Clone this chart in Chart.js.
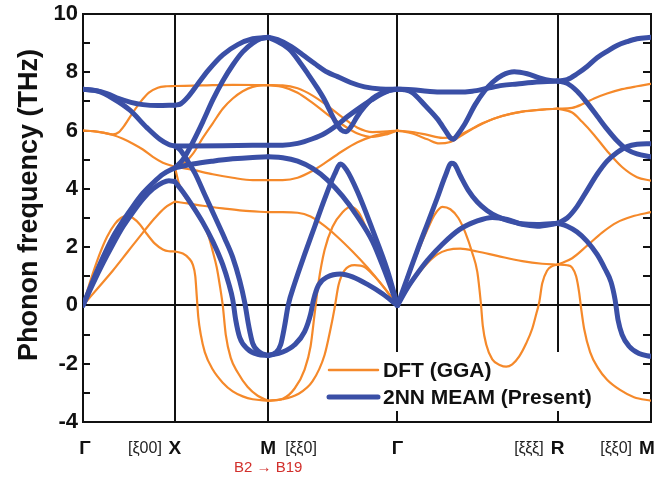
<!DOCTYPE html>
<html>
<head>
<meta charset="utf-8">
<title>Phonon dispersion</title>
<script src="https://cdn.jsdelivr.net/npm/chart.js@4.4.1/dist/chart.umd.min.js"></script>
<style>
  html, body { margin: 0; padding: 0; background: #fff; }
  #chart { display: block; }
</style>
</head>
<body>
<canvas id="chart" width="669" height="483"></canvas>
<script>
// ---------- path through the Brillouin zone ----------
const symPoints = [0, 92, 185.5, 315, 475.5, 569];
const symLabels = ["Γ", "X", "M", "Γ", "R", "M"];
const dirLabels = ["[ξ00]", "[ξξ0]", "[ξξξ]", "[ξξ0]"];
const transitionNote = "B2 → B19";

const yMin = -4;
const yMax = 10;

const ORANGE = "#f5892a";
const BLUE = "#3a4fa6";
const FONT = "'Liberation Sans', Arial, Helvetica, sans-serif";

// ---------- DFT (GGA) branches, [path position, THz] ----------
const dftGX = [
  [[0,6.0],[10,5.98],[20,5.93],[30,5.87],[36,5.95],[42,6.2],[50,6.62],[58,7.0],[66,7.3],[75,7.47],[84,7.52],[92,7.53]],
  [[0,6.0],[10,5.98],[20,5.93],[30,5.85],[40,5.72],[50,5.55],[60,5.35],[70,5.1],[80,4.9],[92,4.76]],
  [[0,0],[15,0.6],[30,1.2],[45,1.85],[60,2.5],[72,3.0],[82,3.35],[92,3.56]],
  [[0,0],[8,0.9],[16,1.7],[24,2.35],[32,2.8],[38,3.0],[44,3.08],[50,3.0],[57,2.78],[64,2.45],[72,2.12],[80,1.92],[86,1.86],[92,1.85]],
];
const dftXM = [
  [[92,7.53],[120,7.55],[150,7.57],[185.5,7.56]],
  [[92,4.76],[100,4.85],[110,5.2],[120,5.75],[130,6.25],[140,6.75],[150,7.1],[160,7.35],[170,7.5],[185.5,7.56]],
  [[92,4.76],[110,4.65],[130,4.5],[150,4.38],[170,4.3],[185.5,4.3]],
  [[92,3.56],[105,3.5],[120,3.42],[140,3.33],[160,3.25],[185.5,3.2]],
  [[92,1.85],[100,1.78],[106,1.62],[110,1.4],[112.5,1.0],[114,0.3],[115.5,-0.4],[118,-1.0],[122,-1.6],[130,-2.2],[140,-2.65],[150,-2.95],[160,-3.12],[170,-3.22],[185.5,-3.27]],
  [[92,4.76],[96,4.2],[100,3.85],[110,3.35],[120,2.8],[126,2.35],[130,1.85],[134,1.3],[137,0.7],[140,0.0],[143,-1.0],[148,-1.8],[155,-2.3],[165,-2.8],[175,-3.1],[185.5,-3.27]],
];
const dftMG = [
  [[185.5,7.56],[200,7.55],[215,7.45],[230,7.2],[245,6.85],[260,6.45],[275,6.1],[290,5.95],[305,5.97],[315,6.0]],
  [[185.5,7.56],[200,7.5],[215,7.3],[230,6.95],[245,6.55],[260,6.2],[275,5.9],[290,5.78],[305,5.88],[315,6.0]],
  [[185.5,4.3],[200,4.3],[215,4.38],[230,4.62],[245,4.95],[260,5.3],[275,5.6],[290,5.8],[305,5.93],[315,6.0]],
  [[185.5,3.2],[200,3.2],[215,3.18],[228,3.05],[240,2.78],[255,2.35],[270,1.85],[285,1.3],[300,0.68],[315,0]],
  [[185.5,-3.27],[200,-3.2],[212,-2.85],[222,-2.2],[228,-1.4],[232,-0.3],[236,0.8],[242,1.9],[250,2.7],[260,3.2],[268,3.38],[276,3.2],[285,2.55],[295,1.75],[305,0.9],[315,0]],
  [[185.5,-3.27],[200,-3.22],[215,-3.05],[230,-2.6],[242,-1.7],[248,-0.8],[252,-0.1],[256,0.7],[262,1.2],[272,1.38],[282,1.32],[292,1.0],[302,0.6],[315,0]],
];
const dftGR = [
  [[315,6.0],[330,5.95],[345,5.85],[360,5.75],[372,5.78],[385,5.98],[400,6.25],[420,6.5],[440,6.65],[460,6.72],[475.5,6.75]],
  [[315,6.0],[330,5.9],[345,5.7],[357,5.56],[367,5.6],[380,5.85],[395,6.15],[415,6.45],[440,6.65],[460,6.72],[475.5,6.75]],
  [[315,0],[325,0.9],[335,1.8],[345,2.6],[352,3.1],[360,3.38],[368,3.3],[376,3.0],[383,2.5],[390,1.8],[395,1.15],[398.5,0.1],[400.5,-0.7],[404,-1.35],[410,-1.85],[418,-2.05],[424,-2.1],[430,-2.02],[437,-1.75],[444,-1.3],[450,-0.8],[454,-0.3],[457,0.1],[460,0.75],[465,1.2],[470,1.35],[475.5,1.4]],
  [[315,0],[325,0.55],[335,1.05],[345,1.45],[355,1.75],[365,1.9],[378,1.95],[395,1.85],[415,1.7],[440,1.52],[460,1.43],[475.5,1.4]],
];
const dftRM = [
  [[475.5,6.75],[490,6.78],[500,6.9],[512,7.1],[525,7.27],[540,7.42],[555,7.52],[569,7.6]],
  [[475.5,6.75],[490,6.62],[500,6.3],[512,5.85],[525,5.3],[540,4.75],[555,4.4],[569,4.28]],
  [[475.5,1.4],[490,1.62],[505,2.05],[520,2.5],[535,2.85],[550,3.05],[569,3.2]],
  [[475.5,1.4],[485,1.38],[490,1.3],[494,1.0],[497,0.45],[499,-0.1],[502,-0.8],[508,-1.6],[516,-2.15],[525,-2.55],[538,-2.9],[552,-3.15],[569,-3.27]],
];

// ---------- 2NN MEAM branches ----------
const meamGX = [
  [[0,7.42],[12,7.38],[24,7.27],[36,7.1],[48,6.97],[60,6.89],[75,6.86],[92,6.87]],
  [[0,7.42],[15,7.35],[30,7.1],[47,6.7],[64,6.1],[77,5.7],[86,5.52],[92,5.47]],
  [[0,0],[10,0.75],[20,1.45],[30,2.1],[40,2.7],[50,3.2],[60,3.65],[70,4.0],[80,4.22],[86,4.28],[92,4.25]],
  [[0,0],[10,0.85],[20,1.65],[30,2.35],[40,2.9],[50,3.4],[60,3.85],[70,4.2],[80,4.5],[92,4.72]],
];
const meamXM = [
  [[92,6.87],[98,6.92],[105,7.15],[115,7.6],[125,8.05],[140,8.6],[155,8.95],[170,9.15],[185.5,9.2]],
  [[92,4.72],[100,5.0],[110,5.6],[120,6.3],[130,7.05],[140,7.7],[150,8.25],[160,8.7],[170,9.0],[178,9.15],[185.5,9.2]],
  [[92,5.47],[140,5.48],[185.5,5.5]],
  [[92,4.72],[110,4.85],[130,4.95],[150,5.03],[170,5.08],[185.5,5.1]],
  [[92,4.25],[100,3.9],[110,3.4],[120,2.85],[130,2.2],[140,1.4],[146,0.75],[150,0.2],[153,-0.5],[157,-1.1],[165,-1.5],[175,-1.68],[185.5,-1.72]],
  [[92,5.47],[97,5.35],[104,5.0],[112,4.55],[122,3.8],[132,3.05],[142,2.3],[150,1.65],[157,0.85],[162,0.1],[166,-0.7],[170,-1.3],[177,-1.6],[185.5,-1.72]],
];
const meamMG = [
  [[185.5,9.2],[195,9.12],[208.7,8.88],[220,8.6],[232,8.3],[245,8.0],[255,7.85],[268,7.65],[282,7.5],[298,7.43],[315,7.42]],
  [[185.5,9.2],[195,9.05],[208,8.75],[218,8.3],[225,7.96],[234,7.5],[242,7.05],[252,6.36],[258.7,6.02],[263.5,5.96],[268.5,6.13],[275,6.5],[282,6.82],[290,7.1],[298.7,7.28],[307,7.38],[315,7.42]],
  [[185.5,5.5],[200,5.5],[215,5.56],[230,5.72],[242,5.9],[255,6.2],[265,6.48],[277,6.78],[289,7.05],[300,7.27],[309,7.4],[315,7.42]],
  [[185.5,5.1],[200,5.07],[215,4.95],[230,4.7],[245,4.3],[260,3.75],[275,3.05],[290,2.2],[302,1.2],[315,0]],
  [[185.5,-1.72],[193,-1.62],[198,-1.35],[202,-0.7],[205.5,0],[212,0.75],[222,1.75],[232,2.7],[242,3.65],[252,4.5],[258,4.85],[264,4.65],[275,3.9],[290,2.6],[305,1.2],[315,0]],
  [[185.5,-1.72],[200,-1.6],[212,-1.35],[222,-0.9],[228,-0.3],[231,0.2],[236,0.7],[245,0.98],[258,1.08],[270,0.98],[285,0.72],[300,0.4],[315,0]],
];
const meamGR = [
  [[315,7.42],[330,7.4],[345,7.35],[360,7.32],[375,7.32],[390,7.35],[405,7.45],[420,7.55],[435,7.6],[450,7.65],[465,7.68],[475.5,7.7]],
  [[315,7.42],[322,7.4],[330,7.3],[343,6.85],[355,6.4],[363,6.0],[368,5.75],[371,5.7],[375,5.85],[382,6.2],[393,6.9],[402,7.35],[410,7.65],[420,7.9],[432,8.02],[445,7.95],[458,7.8],[468,7.72],[475.5,7.7]],
  [[315,0],[325,0.95],[335,1.9],[345,2.8],[355,3.7],[363,4.45],[369,4.88],[372,4.85],[378,4.45],[386,3.95],[395,3.55],[405,3.25],[415,3.05],[425,2.92],[440,2.8],[455,2.78],[475.5,2.82]],
  [[315,0],[325,0.6],[335,1.1],[345,1.55],[360,2.1],[377,2.6],[395,2.9],[410,3.02],[425,2.95],[440,2.78],[455,2.72],[475.5,2.82]],
];
const meamRM = [
  [[475.5,7.7],[485,7.75],[495,7.95],[505,8.2],[515,8.5],[525,8.72],[535,8.92],[545,9.05],[555,9.15],[569,9.2]],
  [[475.5,7.7],[485,7.62],[495,7.35],[505,6.95],[515,6.5],[525,6.05],[535,5.65],[545,5.35],[555,5.2],[569,5.1]],
  [[475.5,2.82],[485,3.0],[495,3.4],[505,3.95],[515,4.5],[525,4.95],[535,5.25],[545,5.45],[555,5.53],[569,5.55]],
  [[475.5,2.82],[485,2.72],[495,2.52],[505,2.2],[515,1.75],[523,1.25],[529,0.8],[533,0.2],[536,-0.5],[540,-1.0],[547,-1.4],[557,-1.65],[569,-1.75]],
];

const dftBranches = [...dftGX, ...dftXM, ...dftMG, ...dftGR, ...dftRM];
const meamBranches = [...meamGX, ...meamXM, ...meamMG, ...meamGR, ...meamRM];

function branchDataset(branch, color, width, order) {
  return {
    data: branch.map(([x, y]) => ({ x, y })),
    borderColor: color,
    borderWidth: width,
    borderCapStyle: "round",
    borderJoinStyle: "round",
    cubicInterpolationMode: "monotone",
    pointRadius: 0,
    fill: false,
    order,
  };
}

const datasets = [
  ...meamBranches.map(b => branchDataset(b, BLUE, 5, 0)),
  ...dftBranches.map(b => branchDataset(b, ORANGE, 2.2, 1)),
];

// legend sits inside the plot; symmetry lines stop around it
const legendTop = 352;
const legendBottom = 411;

// frame, symmetry lines, ticks, legend and axis text
const bandPlot = {
  id: "bandPlot",
  beforeDatasetsDraw(chart) {
    const { ctx, chartArea: a, scales: { x, y } } = chart;
    ctx.save();
    ctx.strokeStyle = "#111";
    ctx.lineWidth = 2;
    ctx.strokeRect(a.left, a.top, a.right - a.left, a.bottom - a.top);
    ctx.beginPath();
    symPoints.slice(1, -1).forEach((k, i) => {
      const px = Math.round(x.getPixelForValue(k));
      if (i >= 2) {
        ctx.moveTo(px, a.top);
        ctx.lineTo(px, legendTop);
        ctx.moveTo(px, legendBottom);
        ctx.lineTo(px, a.bottom);
      } else {
        ctx.moveTo(px, a.top);
        ctx.lineTo(px, a.bottom);
      }
    });
    const y0 = Math.round(y.getPixelForValue(0));
    ctx.moveTo(a.left, y0);
    ctx.lineTo(a.right, y0);
    for (let v = yMin + 1; v < yMax; v++) {
      if (v === 0) continue;
      const py = Math.round(y.getPixelForValue(v));
      ctx.moveTo(a.left, py);
      ctx.lineTo(a.left + 7, py);
      ctx.moveTo(a.right, py);
      ctx.lineTo(a.right - 8, py);
    }
    ctx.stroke();
    ctx.restore();
  },
  afterDatasetsDraw(chart) {
    const { ctx } = chart;
    ctx.save();
    ctx.lineCap = "round";
    ctx.strokeStyle = ORANGE;
    ctx.lineWidth = 2.5;
    ctx.beginPath();
    ctx.moveTo(329, 370);
    ctx.lineTo(378, 370);
    ctx.stroke();
    ctx.strokeStyle = BLUE;
    ctx.lineWidth = 5;
    ctx.beginPath();
    ctx.moveTo(329, 397);
    ctx.lineTo(378, 397);
    ctx.stroke();
    ctx.fillStyle = "#111";
    ctx.font = "bold 21px " + FONT;
    ctx.textAlign = "left";
    ctx.textBaseline = "middle";
    ctx.fillText("DFT (GGA)", 383, 371);
    ctx.fillText("2NN MEAM (Present)", 383, 398);
    ctx.restore();
  },
  afterDraw(chart) {
    const { ctx, scales: { x } } = chart;
    const ly = 449;
    const offsets = [2, 0, 0, 0, 0, -4];
    ctx.save();
    ctx.fillStyle = "#111";
    ctx.textBaseline = "middle";
    ctx.textAlign = "center";
    ctx.font = "bold 19px " + FONT;
    const centers = symPoints.map((k, i) => x.getPixelForValue(k) + offsets[i]);
    symLabels.forEach((s, i) => ctx.fillText(s, centers[i], ly));

    ctx.font = "16px " + FONT;
    ctx.fillStyle = "#222";
    ctx.textAlign = "right";
    ctx.fillText(dirLabels[0], centers[1] - 13, ly);
    ctx.textAlign = "left";
    ctx.fillText(dirLabels[1], centers[2] + 17, ly);
    ctx.textAlign = "right";
    ctx.fillText(dirLabels[2], centers[4] - 14, ly);
    ctx.fillText(dirLabels[3], centers[5] - 15, ly);

    ctx.fillStyle = "#d2302c";
    ctx.textAlign = "center";
    ctx.font = "15px " + FONT;
    ctx.fillText(transitionNote, centers[2], 468);

    // y axis title
    ctx.fillStyle = "#111";
    ctx.font = "bold 27px " + FONT;
    ctx.translate(30, 205);
    ctx.rotate(-Math.PI / 2);
    ctx.fillText("Phonon frequency (THz)", 0, 0);
    ctx.restore();
  },
};

new Chart(document.getElementById("chart").getContext("2d"), {
  type: "line",
  data: { datasets },
  plugins: [bandPlot],
  options: {
    responsive: false,
    devicePixelRatio: 1,
    animation: false,
    layout: { padding: { left: 0, top: 14, right: 18, bottom: 61 } },
    plugins: { legend: { display: false }, tooltip: { enabled: false } },
    scales: {
      x: { type: "linear", min: symPoints[0], max: symPoints[symPoints.length - 1], display: false },
      y: {
        min: yMin,
        max: yMax,
        grid: { display: false },
        border: { display: false },
        afterFit(scale) { scale.width = 83; },
        ticks: {
          stepSize: 2,
          padding: -3,
          color: "#111",
          font: { family: FONT, weight: "bold", size: 22 },
        },
      },
    },
  },
});
</script>
</body>
</html>
